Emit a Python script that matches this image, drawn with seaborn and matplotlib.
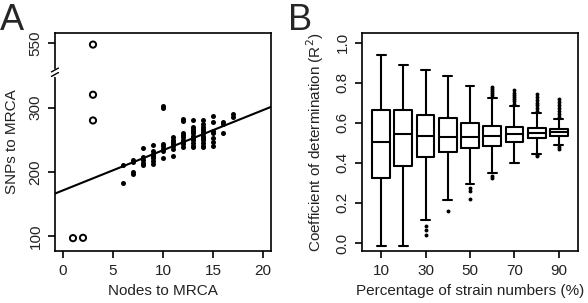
import numpy as np
import matplotlib
matplotlib.use("Agg")
import matplotlib.pyplot as plt
import pandas as pd
import seaborn as sns

# panel A: nodes vs SNPs (filled points)
nodes = [6, 6,
         7, 7, 7, 7,
         8, 8, 8, 8, 8,
         9, 9, 9, 9, 9, 9, 9,
         10, 10, 10, 10, 10, 10, 10,
         11, 11, 11, 11, 11, 11, 11,
         12, 12, 12, 12, 12, 12, 12, 12, 12,
         13, 13, 13, 13, 13, 13, 13, 13, 13, 13, 13,
         14, 14, 14, 14, 14, 14, 14, 14, 14, 14, 14, 14,
         15, 15, 15, 15, 15, 15, 15,
         16, 16, 16,
         17, 17]
snps = [210, 183,
        219, 215, 200, 196,
        237, 223, 219, 214, 211,
        242, 232, 228, 225, 221, 217, 213,
        303, 300, 243, 240, 236, 232, 221,
        254, 250, 246, 243, 240, 236, 225,
        283, 279, 261, 257, 254, 250, 246, 243, 239,
        281, 270, 267, 263, 260, 256, 252, 249, 245, 241, 238,
        280, 274, 270, 266, 263, 260, 256, 252, 249, 245, 241, 239,
        287, 277, 263, 260, 253, 247, 240,
        277, 274, 260,
        290, 286]
# open circles (excluded points)
out_nodes = [1, 2, 3, 3, 3]
out_snps = [97, 97.5, 548, 320, 280]
fit_intercept = 171.3
fit_slope = 6.24
# broken y axis: values above the break are shifted down by this gap
break_gap = 150
a_yticks = [100, 200, 300, 550]

# panel B: R^2 box statistics
pct = [10, 20, 30, 40, 50, 60, 70, 80, 90]
wlo = [-0.015, -0.015, 0.115, 0.217, 0.293, 0.347, 0.400, 0.442, 0.490]
q1 = [0.322, 0.382, 0.428, 0.452, 0.472, 0.485, 0.503, 0.523, 0.535]
med = [0.505, 0.543, 0.533, 0.527, 0.530, 0.533, 0.542, 0.550, 0.552]
q3 = [0.662, 0.662, 0.638, 0.622, 0.597, 0.583, 0.578, 0.575, 0.570]
whi = [0.938, 0.888, 0.862, 0.835, 0.783, 0.722, 0.685, 0.648, 0.620]
fliers = [[],
          [],
          [0.083, 0.063, 0.040],
          [0.158],
          [0.275, 0.260, 0.222],
          [0.730, 0.740, 0.750, 0.760, 0.770, 0.780, 0.335, 0.325],
          [0.695, 0.710, 0.720, 0.730, 0.740, 0.750, 0.765],
          [0.660, 0.675, 0.690, 0.700, 0.715, 0.730, 0.745, 0.440, 0.435],
          [0.630, 0.645, 0.660, 0.675, 0.690, 0.705, 0.720, 0.480, 0.470]]
b_xlabels = ["10", "", "30", "", "50", "", "70", "", "90"]

sns.set_style("ticks")
plt.rcParams["font.family"] = ["Liberation Sans", "DejaVu Sans"]
plt.rcParams["font.size"] = 11

fig = plt.figure(figsize=(5.88, 3.03), dpi=100)
axA = fig.add_axes([0.0935, 0.1716, 0.3674, 0.7195])
axB = fig.add_axes([0.6156, 0.1716, 0.3674, 0.7195])

txt = "#222222"

# ---- A
dfA = pd.DataFrame({"nodes": nodes, "snps": snps})
sns.scatterplot(data=dfA, x="nodes", y="snps", ax=axA, color="black",
                s=13, linewidth=0, edgecolor="black")
plot_out = [v - break_gap if v > 400 else v for v in out_snps]
dfO = pd.DataFrame({"nodes": out_nodes, "snps": plot_out})
sns.scatterplot(data=dfO, x="nodes", y="snps", ax=axA, facecolor="none",
                edgecolor="black", linewidth=1.4, s=20)
xfit = np.array([-0.8, 20.8])
dfL = pd.DataFrame({"x": xfit, "y": fit_intercept + fit_slope * xfit})
sns.lineplot(data=dfL, x="x", y="y", ax=axA, color="black", linewidth=1.5)
axA.set_xlim(-0.8, 20.8)
axA.set_ylim(77, 416)
axA.set_xticks([0, 5, 10, 15, 20])
axA.set_yticks([t - break_gap if t > 400 else t for t in a_yticks])
axA.set_yticklabels([str(t) for t in a_yticks], rotation=90, va="center")
axA.set_xlabel("Nodes to MRCA", labelpad=5, color=txt)
axA.set_ylabel("SNPs to MRCA", labelpad=7, color=txt)
# break marks on the left spine
ybrk = 355
axA.plot([-0.8, -0.8], [ybrk - 4, ybrk + 4], color="white", lw=2.5,
         clip_on=False, zorder=5)
for dy in (-3.5, 3.5):
    axA.plot([-1.15, -0.45], [ybrk + dy - 3, ybrk + dy + 3], color="black",
             lw=1.0, clip_on=False, zorder=6)

# ---- B
stats = []
for i in range(len(pct)):
    stats.append({"whislo": wlo[i], "q1": q1[i], "med": med[i], "q3": q3[i],
                  "whishi": whi[i], "fliers": fliers[i], "label": b_xlabels[i]})
lw = 1.5
axB.bxp(stats, positions=range(1, len(pct) + 1), widths=0.8, capwidths=0.4,
        showfliers=True,
        boxprops=dict(color="black", linewidth=lw),
        whiskerprops=dict(color="black", linewidth=lw, linestyle="-"),
        capprops=dict(color="black", linewidth=lw),
        medianprops=dict(color="black", linewidth=lw),
        flierprops=dict(marker="o", markersize=1.8, markerfacecolor="black",
                        markeredgecolor="black", linestyle="none"))
axB.set_xlim(0.14, 9.86)
axB.set_ylim(-0.04, 1.048)
axB.set_xticks([1, 3, 5, 7, 9])
axB.set_xticklabels(["10", "30", "50", "70", "90"])
axB.set_yticks([0.0, 0.2, 0.4, 0.6, 0.8, 1.0])
axB.set_yticklabels(["0.0", "0.2", "0.4", "0.6", "0.8", "1.0"], rotation=90,
                    va="center")
axB.set_xlabel("Percentage of strain numbers (%)", labelpad=5, color=txt)
axB.set_ylabel("Coefficient of determination (R$^2$)", labelpad=7, color=txt)

for ax in (axA, axB):
    for sp in ax.spines.values():
        sp.set_visible(True)
        sp.set_linewidth(1.2)
        sp.set_color("black")
    ax.tick_params(direction="out", length=5, width=1.2, color="black",
                   labelsize=11, pad=4, labelcolor=txt)

fig.text(0.0, 0.99, "A", fontsize=26, va="top", ha="left")
fig.text(0.49, 0.99, "B", fontsize=26, va="top", ha="left")

fig.savefig("out.png", dpi=100)
